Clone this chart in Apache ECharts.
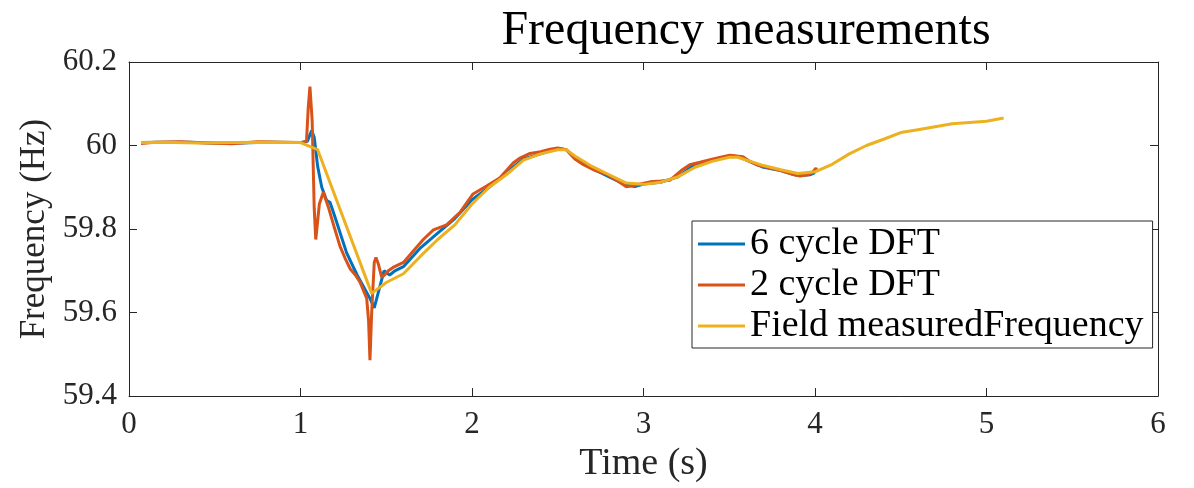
<!DOCTYPE html>
<html>
<head>
<meta charset="utf-8">
<script src="https://cdn.jsdelivr.net/npm/echarts@6/dist/echarts.min.js"></script>
<style>html,body{margin:0;padding:0;background:#fff}#c{width:1194px;height:488px}</style>
</head>
<body>
<div id="c"></div>
<script>
const titleText = 'Frequency measurements';
const xName = 'Time (s)';
const yName = 'Frequency (Hz)';
const seriesNames = ['6 cycle DFT', '2 cycle DFT', 'Field measuredFrequency'];

const t6 = [0.07,0.2,0.35,0.5,0.65,0.8,0.95,1.0,1.04,1.065,1.08,1.1,1.124,1.153,1.172,1.2,1.269,1.33,1.405,1.43,1.455,1.487,1.52,1.55,1.6,1.7,1.8,1.9,2.0,2.1,2.2,2.3,2.4,2.5,2.55,2.6,2.7,2.8,2.9,2.95,3.0,3.1,3.2,3.3,3.4,3.5,3.55,3.6,3.7,3.8,3.9,3.97,4.0];
const f6 = [60.007,60.008,60.008,60.006,60.006,60.008,60.007,60.007,60.01,60.036,60.02,59.95,59.90,59.868,59.864,59.83,59.743,59.69,59.634,59.611,59.65,59.70,59.69,59.70,59.71,59.755,59.79,59.825,59.87,59.90,59.935,59.968,59.98,59.993,59.99,59.97,59.945,59.925,59.905,59.902,59.908,59.912,59.925,59.955,59.965,59.975,59.974,59.965,59.948,59.94,59.928,59.93,59.935];

const t2 = [0.07,0.15,0.3,0.45,0.6,0.75,0.9,1.0,1.035,1.045,1.055,1.068,1.08,1.089,1.11,1.133,1.162,1.2,1.23,1.26,1.289,1.32,1.347,1.37,1.386,1.397,1.405,1.415,1.43,1.44,1.455,1.473,1.49,1.512,1.54,1.6,1.716,1.775,1.852,1.93,2.006,2.085,2.163,2.24,2.28,2.338,2.4,2.455,2.5,2.55,2.6,2.65,2.72,2.786,2.85,2.9,2.96,3.038,3.1,3.155,3.22,3.27,3.33,3.388,3.45,3.504,3.58,3.62,3.66,3.738,3.8,3.86,3.913,3.96,3.99,4.005,4.01];
const f2 = [60.005,60.008,60.009,60.006,60.004,60.009,60.008,60.007,60.01,60.09,60.141,60.06,59.85,59.775,59.86,59.888,59.853,59.80,59.759,59.73,59.705,59.69,59.673,59.65,59.634,59.58,59.486,59.60,59.72,59.732,59.715,59.685,59.69,59.70,59.708,59.72,59.775,59.798,59.81,59.84,59.884,59.903,59.923,59.958,59.97,59.981,59.985,59.991,59.994,59.99,59.968,59.954,59.94,59.931,59.915,59.901,59.906,59.913,59.915,59.917,59.94,59.954,59.96,59.966,59.972,59.977,59.973,59.962,59.954,59.946,59.94,59.932,59.927,59.93,59.938,59.946,59.942];

const tField = [0.07,0.2,0.4,0.6,0.8,1.0,1.1,1.415,1.5,1.6,1.7,1.8,1.9,2.0,2.1,2.2,2.3,2.4,2.5,2.55,2.6,2.7,2.8,2.9,3.0,3.1,3.2,3.3,3.4,3.5,3.55,3.6,3.7,3.8,3.9,4.0,4.1,4.2,4.3,4.4,4.5,4.6,4.7,4.8,4.9,5.0,5.1];
const fField = [60.007,60.008,60.006,60.007,60.008,60.007,59.99,59.646,59.672,59.693,59.735,59.775,59.81,59.86,59.90,59.93,59.965,59.98,59.99,59.99,59.975,59.95,59.93,59.91,59.907,59.912,59.925,59.948,59.962,59.972,59.972,59.965,59.952,59.942,59.933,59.937,59.955,59.98,60.0,60.015,60.031,60.038,60.045,60.052,60.055,60.058,60.066];

const xTicks = {min: 0, max: 6, interval: 1};
const yTicks = {min: 59.4, max: 60.2, interval: 0.2};

const zip = (a, b) => a.map((v, i) => [v, b[i]]);
const FONT = '"Liberation Serif", "Times New Roman", serif';
const AX = '#262626';

const chart = echarts.init(document.getElementById('c'), null, {renderer: 'canvas'});
const axisBase = {
  axisLine: {show: true, onZero: false, lineStyle: {color: AX, width: 1}},
  axisTick: {show: true, inside: true, length: 8, lineStyle: {color: AX}},
  splitLine: {show: false}
};
chart.setOption({
  animation: false,
  backgroundColor: '#fff',
  title: {
    text: titleText, left: 741, top: 2, textAlign: 'center',
    textStyle: {fontFamily: FONT, fontSize: 48, fontWeight: 'normal', color: '#000'}
  },
  grid: {left: 129, right: 36, top: 62, bottom: 85, containLabel: false},
  legend: {
    orient: 'vertical', left: 692, top: 221,
    data: seriesNames,
    icon: 'rect', itemWidth: 47, itemHeight: 3, itemGap: 1,
    backgroundColor: '#fff', borderColor: AX, borderWidth: 1,
    padding: [3, 9, 2, 6],
    textStyle: {fontFamily: FONT, fontSize: 38, color: '#000', lineHeight: 40}
  },
  xAxis: [
    Object.assign({}, axisBase, {
      type: 'value', position: 'bottom', min: xTicks.min, max: xTicks.max, interval: xTicks.interval,
      name: xName, nameLocation: 'middle', nameGap: 43,
      nameTextStyle: {fontFamily: FONT, fontSize: 38, color: AX},
      axisLabel: {fontFamily: FONT, fontSize: 31, color: AX, margin: 13}
    }),
    Object.assign({}, axisBase, {
      type: 'value', position: 'top', min: xTicks.min, max: xTicks.max, interval: xTicks.interval,
      axisLabel: {show: false}
    })
  ],
  yAxis: [
    Object.assign({}, axisBase, {
      type: 'value', position: 'left', min: yTicks.min, max: yTicks.max, interval: yTicks.interval,
      name: yName, nameLocation: 'middle', nameGap: 72,
      nameTextStyle: {fontFamily: FONT, fontSize: 35, color: AX},
      axisLabel: {fontFamily: FONT, fontSize: 31, color: AX, margin: 12,
        formatter: v => String(Math.round(v * 10) / 10)}
    }),
    Object.assign({}, axisBase, {
      type: 'value', position: 'right', min: yTicks.min, max: yTicks.max, interval: yTicks.interval,
      axisLabel: {show: false}
    })
  ],
  series: [
    {name: seriesNames[0], type: 'line', data: zip(t6, f6), showSymbol: false, symbol: 'none',
     lineStyle: {color: '#0072BD', width: 3}, itemStyle: {color: '#0072BD'}, z: 2},
    {name: seriesNames[1], type: 'line', data: zip(t2, f2), showSymbol: false, symbol: 'none',
     lineStyle: {color: '#D95319', width: 3}, itemStyle: {color: '#D95319'}, z: 3},
    {name: seriesNames[2], type: 'line', data: zip(tField, fField), showSymbol: false, symbol: 'none',
     lineStyle: {color: '#EDB120', width: 3}, itemStyle: {color: '#EDB120'}, z: 4}
  ]
});
</script>
</body>
</html>
